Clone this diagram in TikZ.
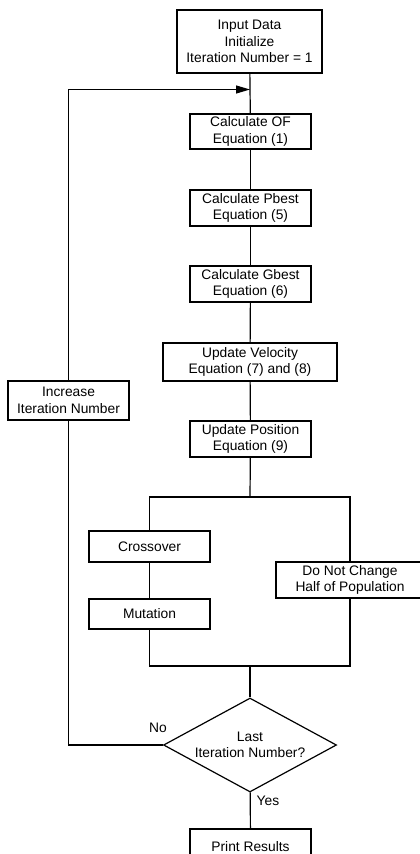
\documentclass[tikz,border=0pt]{standalone}
\usepackage{fontspec}
\setmainfont{Liberation Sans}
\usetikzlibrary{shapes.geometric,arrows.meta}

\begin{document}
\begin{tikzpicture}[x=1pt,y=-1pt,
    font=\fontsize{13.8}{16.5}\selectfont,
    process/.style ={rectangle, draw, line width=1.2pt, align=center, inner sep=0pt, minimum width=121pt},
    decision/.style ={diamond, draw, line width=1.2pt, align=center, inner sep=0pt, aspect=1.84,
                      minimum width=173pt, minimum height=94pt},
    link/.style ={line width=1.2pt}]
   \clip (0,0) rectangle (420,854);
   \node[process, minimum width=145pt, minimum height=63pt] (A) at (249.5,41.5) {Input Data\\Initialize\\Iteration Number = 1};
   \node[process, minimum height=35pt] (B) at (250.5,131.5) {Calculate OF\\Equation (1)};
   \node[process, minimum height=36pt] (C) at (250.5,208) {Calculate Pbest\\Equation (5)};
   \node[process, minimum height=36pt] (D) at (250.5,284) {Calculate Gbest\\Equation (6)};
   \node[process, minimum width=174pt, minimum height=38pt] (E) at (250,362) {Update Velocity\\Equation (7) and (8)};
   \node[process, minimum height=36pt] (F) at (250.5,439) {Update Position\\Equation (9)};
   \node[process, minimum height=31pt] (G) at (149.5,546.5) {Crossover};
   \node[process, minimum height=30pt] (H) at (149.5,614) {Mutation};
   \node[process, minimum width=148pt, minimum height=36pt] (I) at (350,580) {Do Not Change\\Half of Population};
   \node[decision] (J) at (250,745) {Last\\Iteration Number?};
   \node[process, minimum height=35pt] (K) at (250.5,846.5) {Print Results};
   \node[process, minimum height=39pt] (L) at (68.5,400.5) {Increase\\Iteration Number};
   \node (no) at (158,728) {No};
   \node (yes) at (268,801) {Yes};
   \coordinate (S) at (250,497);
   \coordinate (M) at (250,666);
   \coordinate (R) at (250,89.5);
   \draw[link] (A) to (B);
   \draw[link] (B) to (C);
   \draw[link] (C) to (D);
   \draw[link] (D) to (E);
   \draw[link] (E) to (F);
   \draw[link] (F) to (S);
   \draw[link] (G.north) |- (S) -| (I.north);
   \draw[link] (G) to (H);
   \draw[link] (H.south) |- (M) -| (I.south);
   \draw[link] (M) to (J.north);
   \draw[link] (J) to (K);
   \draw[link] (J.west) -| (L.south);
   \draw[link, -{Triangle[length=14pt,width=8pt]}] (L.north) |- (R);
 \end{tikzpicture}
\end{document}
